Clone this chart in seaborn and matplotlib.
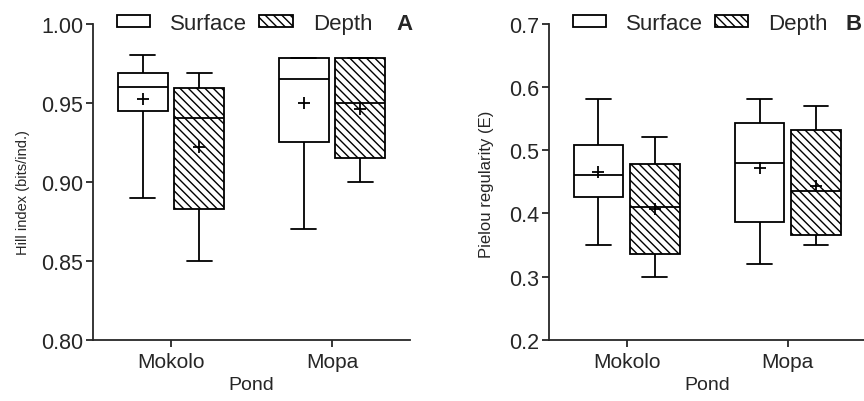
import numpy as np
import pandas as pd
import seaborn as sns
import matplotlib.pyplot as plt
from matplotlib.patches import Patch

ponds = ["Mokolo", "Mopa"]
layers = ["Surface", "Depth"]

# order: Mokolo-Surface, Mokolo-Depth, Mopa-Surface, Mopa-Depth
hill_min = [0.89, 0.85, 0.87, 0.90]
hill_q1 = [0.945, 0.883, 0.925, 0.915]
hill_med = [0.96, 0.94, 0.965, 0.95]
hill_q3 = [0.969, 0.959, 0.978, 0.978]
hill_max = [0.98, 0.969, 0.978, 0.978]
hill_mean = [0.952, 0.922, 0.950, 0.946]

piel_min = [0.35, 0.30, 0.32, 0.35]
piel_q1 = [0.426, 0.335, 0.386, 0.366]
piel_med = [0.46, 0.41, 0.48, 0.435]
piel_q3 = [0.508, 0.478, 0.543, 0.531]
piel_max = [0.58, 0.52, 0.58, 0.57]
piel_mean = [0.465, 0.407, 0.471, 0.443]

groups = [(p, l) for p in ponds for l in layers]


def box_frame(mins, q1s, meds, q3s, maxs):
    # five values per group so the box shows min / q1 / median / q3 / max
    rows = []
    for i, (p, l) in enumerate(groups):
        for v in (mins[i], q1s[i], meds[i], q3s[i], maxs[i]):
            rows.append({"pond": p, "layer": l, "value": v})
    return pd.DataFrame(rows)


def mean_frame(means):
    return pd.DataFrame({"pond": [g[0] for g in groups],
                         "layer": [g[1] for g in groups],
                         "value": means})


sns.set_style("ticks")
plt.rcParams["font.family"] = ["Liberation Sans", "DejaVu Sans"]
plt.rcParams["hatch.linewidth"] = 1.0

HATCH = "\\\\\\\\"
LW = 1.3

fig = plt.figure(figsize=(8.64, 4.02), dpi=100)
axA = fig.add_axes([0.1076, 0.152, 0.3669, 0.787])
axB = fig.add_axes([0.6351, 0.152, 0.3669, 0.787])

panels = [
    (axA, box_frame(hill_min, hill_q1, hill_med, hill_q3, hill_max), mean_frame(hill_mean),
     "Hill index (bits/ind.)", (0.80, 1.00), np.arange(0.80, 1.001, 0.05), "%.2f", "A", 0.958, 10.5, -0.199, 0.468),
    (axB, box_frame(piel_min, piel_q1, piel_med, piel_q3, piel_max), mean_frame(piel_mean),
     "Pielou regularity (E)", (0.2, 0.7), np.arange(0.2, 0.701, 0.1), "%.1f", "B", 0.935, 12, -0.173, 0.494),
]

for ax, bdf, mdf, ylab, ylim, yt, fmt, letter, lx, ylfs, ylx, yly in panels:
    sns.boxplot(data=bdf, x="pond", y="value", hue="layer", order=ponds, hue_order=layers,
                palette={"Surface": "white", "Depth": "white"}, linecolor="black",
                linewidth=LW, whis=(0, 100), width=0.7, gap=0.12, legend=False, ax=ax)
    # depth boxes sit to the right of each category centre
    for patch in ax.patches:
        xc = np.mean(patch.get_path().vertices[:, 0])
        if xc > round(xc):
            patch.set_hatch(HATCH)
    sns.pointplot(data=mdf, x="pond", y="value", hue="layer", order=ponds, hue_order=layers,
                  palette={"Surface": "black", "Depth": "black"}, dodge=0.35, markers="+",
                  linestyles="none", errorbar=None, markersize=9, markeredgewidth=1.3,
                  legend=False, ax=ax)

    ax.set_xlim(-0.484, 1.484)
    ax.set_ylim(*ylim)
    ax.set_yticks(yt)
    ax.set_yticklabels([fmt % v for v in yt])
    ax.tick_params(axis="y", labelsize=15.5, length=5, width=LW, pad=2)
    ax.tick_params(axis="x", labelsize=15, length=5, width=LW, pad=4)
    for s in ("left", "bottom"):
        ax.spines[s].set_linewidth(LW)
    sns.despine(ax=ax)
    ax.set_xlabel("Pond", fontsize=14, labelpad=3)
    ax.set_ylabel(ylab, fontsize=ylfs)
    ax.yaxis.set_label_coords(ylx, yly)

    handles = [Patch(facecolor="white", edgecolor="black", linewidth=LW),
               Patch(facecolor="white", edgecolor="black", linewidth=LW, hatch=HATCH)]
    ax.legend(handles, layers, loc="center left", bbox_to_anchor=(0.075, 1.0), ncol=2,
              frameon=False, fontsize=16, handlelength=1.5, handleheight=0.45,
              handletextpad=0.9, columnspacing=0.55, borderpad=0, borderaxespad=0)
    ax.text(lx, 1.0, letter, transform=ax.transAxes, ha="left", va="center",
            fontsize=16, fontweight="bold", clip_on=False)

fig.savefig("out.png", dpi=100)
